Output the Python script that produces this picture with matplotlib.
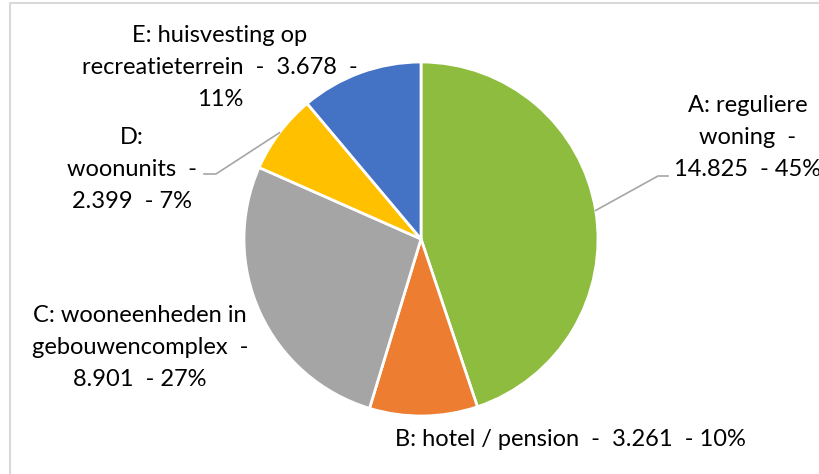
import numpy as np
import matplotlib

matplotlib.use("Agg")
import matplotlib.pyplot as plt

# Data
categories = ["A", "B", "C", "D", "E"]
values = [14825, 3261, 8901, 2399, 3678]
colors = ["#8DBC3F", "#ED7D31", "#A5A5A5", "#FFC000", "#4472C4"]
label_fmt = [
    "A: reguliere\nwoning  -\n{v}  - {p}%",
    "B: hotel / pension  -  {v}  - {p}%",
    "C: wooneenheden in\ngebouwencomplex  -\n{v}  - {p}%",
    "D:\nwoonunits  -\n{v}  - {p}%",
    "E: huisvesting op\nrecreatieterrein  -  {v}  -\n{p}%",
]

W, H = 820, 474
# label anchor (center x, first line y) in pixels from top-left
label_pos = {"A": (748, 105), "B": (570, 440), "C": (140, 315), "D": (132, 137), "E": (220, 35)}
line_step = 32
leader_ends = {"A": [(658, 176), (668, 176)], "D": [(216, 174), (204, 174)]}

cx, cy, r = 421, 239, 177

plt.rcParams["font.family"] = ["Lato", "DejaVu Sans"]

fig = plt.figure(figsize=(W / 100, H / 100), dpi=100)
ax = fig.add_axes([0, 0, 1, 1])

ax.pie(
    values,
    colors=colors,
    startangle=90,
    counterclock=False,
    center=(cx, H - cy),
    radius=r,
    wedgeprops=dict(edgecolor="white", linewidth=2),
)
ax.set_xlim(0, W)
ax.set_ylim(0, H)
ax.set_aspect("equal")
ax.axis("off")

total = sum(values)
cum = 0
for cat, v, fmt in zip(categories, values, label_fmt):
    pct = round(v / total * 100)
    txt = fmt.format(v=f"{v:,}".replace(",", "."), p=pct)
    x0, y0 = label_pos[cat]
    for i, line in enumerate(txt.split("\n")):
        ax.text(x0, H - (y0 + i * line_step), line, ha="center", va="center",
                fontsize=17, color="#000000")
    mid = 90 - (cum + v / 2) / total * 360
    cum += v
    if cat in leader_ends:
        sx = cx + r * np.cos(np.radians(mid))
        sy = cy - r * np.sin(np.radians(mid))
        pts = [(sx, sy)] + leader_ends[cat]
        ax.plot([p[0] for p in pts], [H - p[1] for p in pts], color="#A6A6A6", lw=1.2)

# chart frame (top and left edges visible)
ax.plot([10, 10, W + 5], [-5, H - 3, H - 3], color="#D9D9D9", lw=1.5, clip_on=False)

fig.savefig("out.png", dpi=100, facecolor="white")
